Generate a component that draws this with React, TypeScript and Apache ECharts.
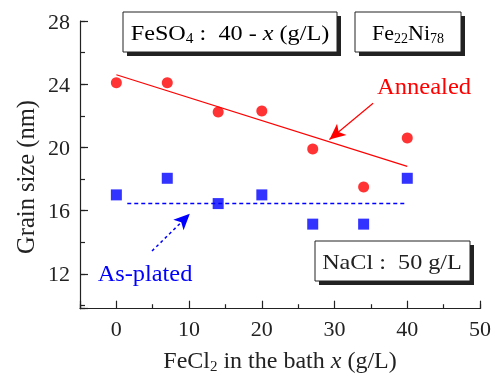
import React, { useEffect, useRef } from "react";
import * as echarts from "echarts";

const xValues = [0, 7, 14, 20, 27, 34, 40];
const annealed = [24.1, 24.1, 22.25, 22.3, 19.9, 17.5, 20.6];
const asPlated = [17.0, 18.05, 16.45, 17.0, 15.15, 15.15, 18.05];
const annealedFit = [[0, 24.6], [40, 18.8]];
const asPlatedFit = [[1.5, 16.45], [40, 16.45]];
const annealedArrow = [[35.3, 22.8], [29.3, 20.5]];
const asPlatedArrow = [[4.9, 13.45], [10.1, 15.8]];
const xRange = [-5, 50];
const yRange = [9.8, 28];
const xMajorStep = 10;
const xMinorStep = 10; // counted from xRange[0] = -5 -> 5, 15, 25 ...
const yMajorStep = 4;
const yMinorStep = 2;

const FONT = "Liberation Serif";
const INK = "#222";

export default function App() {
  const ref = useRef<HTMLDivElement>(null);
  useEffect(() => {
    document.body.style.margin = "0";
    const chart = echarts.init(ref.current!, null, { renderer: "svg" });
    const tickStyle = { color: INK, width: 1.2 };
    const subRich = (size: number) => ({
      n: { fontFamily: FONT, fontSize: size, color: INK, lineHeight: size + 4 },
      s: { fontFamily: FONT, fontSize: Math.round(size * 0.64), color: INK, lineHeight: 14, verticalAlign: "bottom" },
      i: { fontFamily: FONT, fontSize: size, color: INK, lineHeight: size + 4, fontStyle: "italic" },
    });
    const box = (x: number, y: number, w: number, h: number) => [
      { type: "rect", shape: { x: x + 4, y: y + 4, width: w, height: h }, style: { fill: INK }, z: 10 },
      { type: "rect", shape: { x, y, width: w, height: h }, style: { fill: "#fff", stroke: INK, lineWidth: 1 }, z: 11 },
    ];
    chart.setOption({
      animation: false,
      grid: { left: 80, top: 21, width: 400, height: 287.7, outerBoundsMode: "none", containLabel: false },
      xAxis: [
        {
          type: "value", min: xRange[0], max: xRange[1], position: "bottom",
          minInterval: xMajorStep, maxInterval: xMajorStep,
          axisLine: { show: true, onZero: false, lineStyle: tickStyle },
          splitLine: { show: false },
          axisTick: { show: true, inside: false, length: -8, lineStyle: tickStyle },
          axisLabel: {
            fontFamily: FONT, fontSize: 22, color: INK, margin: 9,
            formatter: (v: number) => (v % xMajorStep === 0 ? String(v) : ""),
          },
          name: "{n|FeCl}{s|2}{n| in the bath }{i|x}{n| (g/L)}",
          nameLocation: "middle", nameGap: 37,
          nameTextStyle: { rich: subRich(24) },
        },
        {
          type: "value", min: xRange[0], max: xRange[1], position: "bottom",
          interval: xMinorStep,
          axisLine: { show: true, onZero: false, lineStyle: { ...tickStyle, opacity: 0 } },
          splitLine: { show: false },
          axisTick: { show: true, inside: false, length: -4.5, lineStyle: tickStyle },
          axisLabel: { show: false },
        },
      ],
      yAxis: [
        {
          type: "value", min: yRange[0], max: yRange[1], position: "left",
          minInterval: yMajorStep, maxInterval: yMajorStep,
          axisLine: { show: true, onZero: false, lineStyle: tickStyle },
          splitLine: { show: false },
          axisTick: { show: true, inside: false, length: -8, lineStyle: tickStyle },
          axisLabel: {
            fontFamily: FONT, fontSize: 22, color: INK, margin: 10,
            formatter: (v: number) => (Math.abs(v % yMajorStep) < 1e-6 ? String(v) : ""),
          },
        },
        {
          type: "value", min: yRange[0], max: yRange[1], position: "left",
          minInterval: yMinorStep, maxInterval: yMinorStep,
          axisLine: { show: true, onZero: false, lineStyle: { ...tickStyle, opacity: 0 } },
          splitLine: { show: false },
          axisTick: { show: true, inside: false, length: -5, lineStyle: tickStyle },
          axisLabel: { show: false },
        },
      ],
      series: [
        {
          name: "Annealed", type: "scatter", symbol: "circle", symbolSize: 11,
          itemStyle: { color: "#ff0000" },
          data: xValues.map((x, i) => [x, annealed[i]]), z: 5,
        },
        {
          name: "As-plated", type: "scatter", symbol: "rect", symbolSize: 11,
          itemStyle: { color: "#0000ff" },
          data: xValues.map((x, i) => [x, asPlated[i]]), z: 5,
        },
        {
          type: "line", data: annealedFit, showSymbol: false, symbol: "none",
          color: "#ff0000",
          lineStyle: { color: "#ff0000", width: 1.2 },
          markLine: {
            silent: true, symbol: ["none", "arrow"], symbolSize: [11, 16],
            label: { show: false },
            lineStyle: { color: "#ff0000", width: 1.2, type: "solid" },
            data: [[{ coord: annealedArrow[0] }, { coord: annealedArrow[1] }]],
          },
        },
        {
          type: "line", data: asPlatedFit, showSymbol: false, symbol: "none",
          color: "#0000ff",
          lineStyle: { color: "#0000ff", width: 1.5, type: [4, 3] },
          markLine: {
            silent: true, symbol: ["none", "arrow"], symbolSize: [11, 16],
            label: { show: false },
            lineStyle: { color: "#0000ff", width: 1.5, type: [3, 3] },
            data: [[{ coord: asPlatedArrow[0] }, { coord: asPlatedArrow[1] }]],
          },
        },
      ],
      graphic: [
        ...box(123, 12, 214, 40),
        ...box(355, 12, 106, 40),
        ...box(315, 241, 155, 40),
        {
          type: "text", x: 230, y: 32, z: 12, scaleX: 1.1,
          style: {
            text: "{n|FeSO}{s|4}{n| :  40 - }{i|x}{n| (g/L)}", rich: subRich(22),
            align: "center", verticalAlign: "middle",
          },
        },
        {
          type: "text", x: 408, y: 32, z: 12,
          style: {
            text: "{n|Fe}{s|22}{n|Ni}{s|78}", rich: subRich(22),
            align: "center", verticalAlign: "middle",
          },
        },
        {
          type: "text", x: 392, y: 261, z: 12, scaleX: 1.1,
          style: {
            text: "NaCl :  50 g/L", fontFamily: FONT, fontSize: 22, fill: INK,
            align: "center", verticalAlign: "middle",
          },
        },
        {
          type: "text", x: 424, y: 86, z: 12, scaleX: 1.07,
          style: {
            text: "Annealed", fontFamily: FONT, fontSize: 23, fill: "#ff0000",
            align: "center", verticalAlign: "middle",
          },
        },
        {
          type: "text", x: 145, y: 273, z: 12, scaleX: 1.06,
          style: {
            text: "As-plated", fontFamily: FONT, fontSize: 23, fill: "#0000ff",
            align: "center", verticalAlign: "middle",
          },
        },
        {
          type: "text", x: 25, y: 177, rotation: Math.PI / 2, z: 12,
          style: {
            text: "Grain size (nm)", fontFamily: FONT, fontSize: 24.5, fill: INK,
            align: "center", verticalAlign: "middle",
          },
        },
      ],
    });
    return () => chart.dispose();
  }, []);
  return <div ref={ref} style={{ position: "fixed", left: 0, top: 0, width: 493, height: 375 }} />;
}
